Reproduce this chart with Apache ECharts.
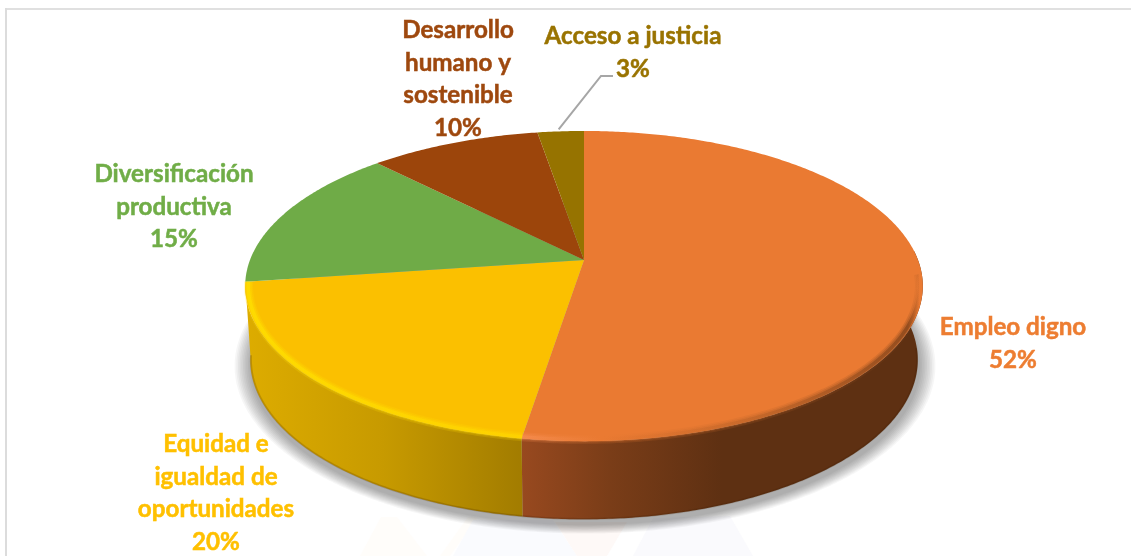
<!DOCTYPE html>
<html><head><meta charset="utf-8">
<style>html,body{margin:0;padding:0;background:#fff}#c{width:1131px;height:556px}</style>
<script src="https://cdn.jsdelivr.net/npm/echarts@6/dist/echarts.min.js"></script>
</head><body><div id="c"></div>
<script>
// --- data ---
const categories = ['Empleo digno', 'Equidad e\nigualdad de\noportunidades', 'Diversificación\nproductiva', 'Desarrollo\nhumano y\nsostenible', 'Acceso a justicia'];
const values = [52.49, 20.26, 15.05, 9.6, 2.6];

// --- styling ---
const topColors = ['#EA7A32', '#FBC000', '#6FAB47', '#9C450B', '#967300'];
const labelColors = ['#ED7D31', '#FFC000', '#70AD47', '#9E480E', '#997300'];
const wallStops = [
  [[0, '#98491F'], [0.22, '#7a3d18'], [0.5, '#5E3012'], [1, '#5E3012']],
  [[0, '#DDAC00'], [0.5, '#C79A00'], [1, '#A27C00']],
  null, null, null
];
const rimStops = [
  [[0, 'rgba(247,142,82,1)'], [0.2, 'rgba(234,122,50,0.9)'], [0.55, 'rgba(190,100,40,0.9)'], [0.97, 'rgba(120,62,24,0.95)'], [1, 'rgba(120,62,24,0)']],
  [[0, 'rgba(255,226,0,1)'], [1, 'rgba(255,214,0,1)']],
  null, null, null
];
// label centre (x of text block, y of first line) in page pixels
const labelLayout = [[1013, 327], [216, 444], [174, 174], [458, 30], [633, 36]];
const FONT = 'Lato';
const FS = 24.2, LH = 32.8;

// projection of the tilted disc
const geo = {
  cx: 584, cy: 260, a: 334, b: 150.7, k: 0.168,
  cy2: 333, a2: 329, b2: 155
};
function pt(theta, lower, f) {
  const s = f === undefined ? 1 : f;
  const u = Math.sin(theta) * s, v = Math.cos(theta) * s, w = 1 + geo.k * Math.cos(theta);
  return lower
    ? [geo.cx + geo.a2 * u / w, geo.cy2 - geo.b2 * v / w]
    : [geo.cx + geo.a * u / w, geo.cy - geo.b * v / w];
}
function arc(t0, t1, lower, f) {
  const n = Math.max(2, Math.ceil(Math.abs(t1 - t0) / 0.01)), out = [];
  for (let i = 0; i <= n; i++) out.push(pt(t0 + (t1 - t0) * i / n, lower, f));
  return out;
}
const total = values.reduce((s, v) => s + v, 0);
const bounds = [];
values.reduce((acc, v) => {
  const t0 = acc / total * Math.PI * 2, t1 = (acc + v) / total * Math.PI * 2;
  bounds.push([t0, t1]);
  return acc + v;
}, 0);
const FRONT0 = Math.PI * 0.48, FRONT1 = Math.PI * 1.46;
const RIM0 = Math.PI * 0.53;
const SHADOW_LAYERS = 10;

function grad(x0, x1, stops) {
  return new echarts.graphic.LinearGradient(x0, 0, x1, 0,
    stops.map(s => ({ offset: s[0], color: s[1] })), true);
}

function renderItem(params) {
  const i = params.dataIndex;
  const [t0, t1] = bounds[i];
  const kids = [];
  if (i === 0) {
    // soft shadow under the disc, built from nested translucent outlines
    for (let j = SHADOW_LAYERS; j >= 1; j--) {
      kids.push({
        type: 'polygon', z2: 0, silent: true,
        shape: { points: arc(0, Math.PI * 2, true, 1 + j * 0.005).map(p => [p[0] + 1, p[1] + 5]) },
        style: { fill: '#000', opacity: 0.035 }
      });
    }
  }
  const a0 = Math.max(t0, FRONT0), a1 = Math.min(t1, FRONT1);
  if (wallStops[i] && a1 > a0) {
    const top = arc(a0, a1, false), low = arc(a0, a1, true);
    const xs = top.concat(low).map(p => p[0]);
    const xMin = Math.min(...xs), xMax = Math.max(...xs);
    kids.push({
      type: 'polygon', z2: 1,
      shape: { points: top.concat(low.reverse()) },
      style: { fill: grad(xMin, xMax, wallStops[i]) }
    });
    // dark seam along the foot of the wall
    kids.push({
      type: 'polyline', z2: 2,
      shape: { points: arc(Math.max(a0, RIM0), a1, true, 0.998) },
      style: { fill: null, stroke: 'rgba(60,30,5,0.2)', lineWidth: 2 }
    });
  }
  // top face
  kids.push({
    type: 'polygon', z2: 5,
    shape: { points: [[geo.cx, geo.cy]].concat(arc(t0, t1, false)) },
    style: { fill: topColors[i] }
  });
  const r0 = Math.max(t0, RIM0);
  if (rimStops[i] && a1 > r0) {
    // soft bevel: nested strokes along the front edge
    [[0.99, 9, 0.2], [0.99, 6, 0.3], [0.991, 3.5, 0.6]].forEach(([f, lw, op]) => {
      const rim = arc(r0, a1, false, f);
      const xs = rim.map(p => p[0]);
      kids.push({
        type: 'polyline', z2: 6, silent: true,
        shape: { points: rim },
        style: { fill: null, stroke: grad(Math.min(...xs), Math.max(...xs), rimStops[i]), lineWidth: lw, opacity: op, lineCap: 'butt' }
      });
    });
  }
  // label
  const pct = Math.round(values[i] / total * 100) + '%';
  const lines = categories[i].split('\n').concat([pct]);
  lines.forEach((line, j) => {
    kids.push({
      type: 'text', z2: 10,
      style: {
        x: labelLayout[i][0], y: labelLayout[i][1] + j * LH, text: line,
        fill: labelColors[i], stroke: labelColors[i], lineWidth: 0.5,
        font: `bold ${FS}px ${FONT}, sans-serif`,
        textAlign: 'center', textVerticalAlign: 'middle'
      }
    });
  });
  if (i === values.length - 1) {
    // leader line from the smallest slice up to its label
    const mid = (t0 + t1) / 2, p = pt(mid, false);
    kids.push({
      type: 'polyline', z2: 9,
      shape: { points: [[p[0] - 2, p[1] - 2], [601, 76], [613, 76]] },
      style: { fill: null, stroke: '#A6A6A6', lineWidth: 2 }
    });
  }
  return { type: 'group', children: kids };
}

const chart = echarts.init(document.getElementById('c'), null, { renderer: 'canvas' });
chart.setOption({
  animation: false,
  backgroundColor: '#fff',
  graphic: [
    { type: 'polygon', z: -2, shape: { points: [[360, 556], [381, 517], [397, 517], [427, 556]] }, style: { fill: '#FFFDFA' } },
    { type: 'polygon', z: -2, shape: { points: [[440, 556], [468, 517], [478, 517], [450, 556]] }, style: { fill: '#FFFDFA' } },
    { type: 'polygon', z: -2, shape: { points: [[453, 556], [473, 520], [553, 520], [577, 556]] }, style: { fill: '#FAFBFE' } },
    { type: 'polygon', z: -2, shape: { points: [[555, 522], [627, 522], [607, 556], [577, 556]] }, style: { fill: '#FEF9F7' } },
    { type: 'polygon', z: -2, shape: { points: [[633, 556], [653, 518], [730, 516], [753, 556]] }, style: { fill: '#FAFAFD' } },
    { type: 'line', z: 5, shape: { x1: 5, y1: 9, x2: 1131, y2: 9 }, style: { stroke: '#E0E0E0', lineWidth: 2 } },
    { type: 'line', z: 5, shape: { x1: 6, y1: 8, x2: 6, y2: 556 }, style: { stroke: '#DCDCDC', lineWidth: 2 } }
  ],
  series: [{
    type: 'custom',
    coordinateSystem: 'none',
    renderItem,
    data: values.map((v, i) => ({ name: categories[i], value: v }))
  }]
});
</script></body></html>
